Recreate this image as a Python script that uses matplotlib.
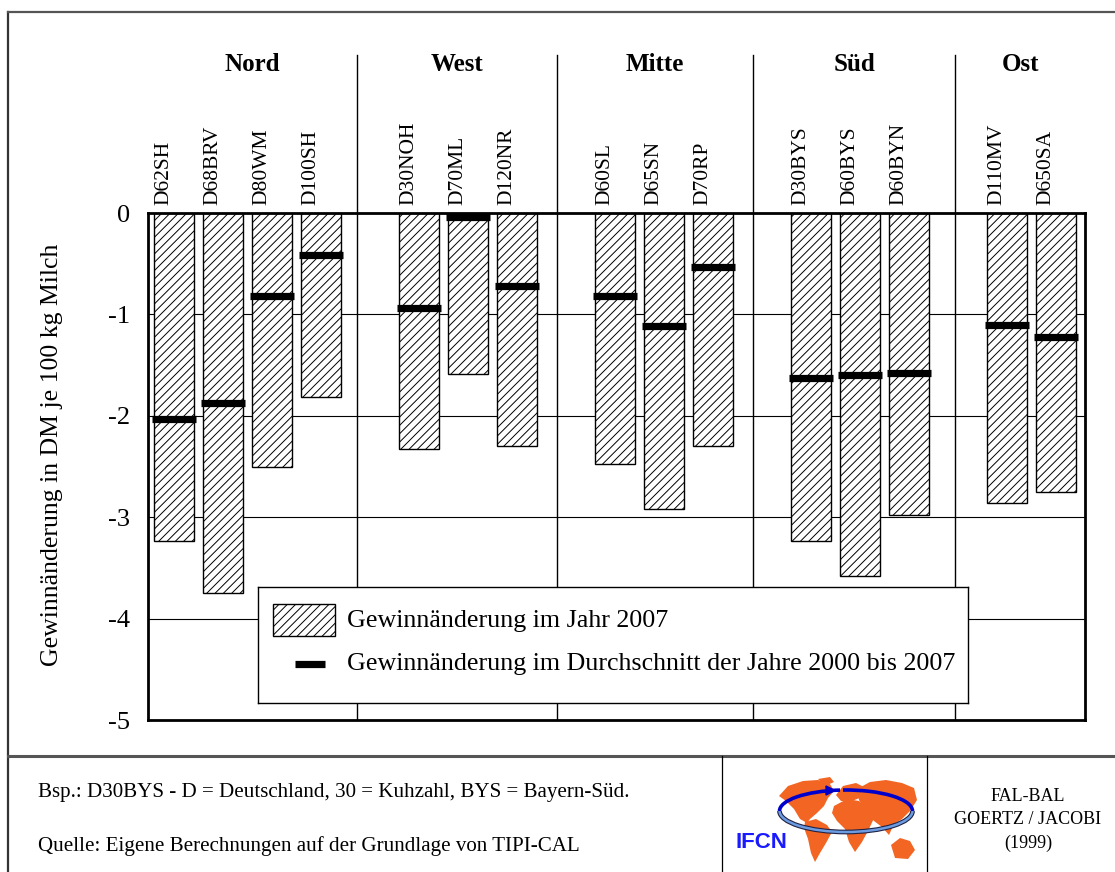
import matplotlib.pyplot as plt
from matplotlib.patches import Rectangle, Polygon, Arc
from matplotlib.transforms import blended_transform_factory

plt.rcParams['font.family'] = ['Liberation Serif', 'DejaVu Serif']
plt.rcParams['hatch.linewidth'] = 0.7

# Daten
regionen = ['Nord', 'West', 'Mitte', 'Süd', 'Ost']
betriebe = [
    ['D62SH', 'D68BRV', 'D80WM', 'D100SH'],
    ['D30NOH', 'D70ML', 'D120NR'],
    ['D60SL', 'D65SN', 'D70RP'],
    ['D30BYS', 'D60BYS', 'D60BYN'],
    ['D110MV', 'D650SA'],
]
# Gewinnänderung im Jahr 2007 (DM je 100 kg Milch)
wert_2007 = [
    [-3.23, -3.75, -2.50, -1.81],
    [-2.33, -1.59, -2.30],
    [-2.48, -2.92, -2.30],
    [-3.23, -3.58, -2.98],
    [-2.86, -2.75],
]
# Durchschnitt der Jahre 2000 bis 2007
wert_mittel = [
    [-2.03, -1.87, -0.82, -0.41],
    [-0.94, -0.035, -0.72],
    [-0.82, -1.11, -0.53],
    [-1.63, -1.60, -1.58],
    [-1.10, -1.22],
]
y_ticks = [0, -1, -2, -3, -4, -5]

# Positionen: je Region eine Lücke
pos, labels, v07, vmit = [], [], [], []
i = 0
for g, namen in enumerate(betriebe):
    for k, n in enumerate(namen):
        pos.append(i)
        labels.append(n)
        v07.append(wert_2007[g][k])
        vmit.append(wert_mittel[g][k])
        i += 1
    i += 1
trenner = [3.73, 7.82, 11.82, 15.94]
grenzen = [-0.53] + trenner + [18.59]

W, H = 1115, 872
fig = plt.figure(figsize=(W / 100, H / 100), dpi=100)

# Hintergrund (Pixelkoordinaten) für Rahmen und Fußzeile
bg = fig.add_axes([0, 0, 1, 1], zorder=-1)
bg.set_xlim(0, W)
bg.set_ylim(H, 0)
bg.axis('off')
bg.plot([8, 8], [12, H], color='#333333', lw=1.6)
bg.plot([8, W], [12, 12], color='#555555', lw=1.6)
bg.plot([8, W], [756, 756], color='#555555', lw=2.2)
bg.plot([722, 722], [756, H], color='black', lw=0.9)
bg.plot([927, 927], [756, H], color='black', lw=0.9)
bg.text(38, 792, 'Bsp.: D30BYS - D = Deutschland, 30 = Kuhzahl, BYS = Bayern-Süd.',
        fontsize=15.1, va='center', ha='left')
bg.text(38, 846, 'Quelle: Eigene Berechnungen auf der Grundlage von TIPI-CAL',
        fontsize=15.1, va='center', ha='left')
bg.text(1028, 820, 'FAL-BAL\nGOERTZ / JACOBI\n(1999)', fontsize=13,
        ha='center', va='center', linespacing=1.45)

# IFCN-Logo (grob)
orange = '#f26522'
kontinente = [
    [(779, 796), (788, 786), (803, 781), (818, 780), (830, 784), (834, 791), (828, 798),
     (824, 806), (817, 813), (810, 819), (807, 823), (800, 819), (794, 809), (786, 801)],
    [(818, 779), (830, 777), (834, 782), (825, 786)],
    [(805, 822), (816, 819), (827, 825), (832, 832), (826, 843), (820, 853), (815, 862),
     (811, 853), (808, 839), (804, 828)],
    [(836, 795), (843, 786), (856, 783), (866, 788), (862, 797), (852, 801), (841, 801)],
    [(834, 806), (847, 799), (859, 801), (868, 809), (875, 816), (869, 829), (862, 842),
     (855, 852), (849, 842), (845, 829), (837, 821), (832, 813)],
    [(857, 789), (870, 782), (886, 780), (902, 783), (914, 788), (917, 800), (910, 811),
     (902, 819), (894, 824), (889, 835), (882, 827), (874, 821), (865, 811), (859, 800)],
    [(891, 845), (900, 838), (910, 841), (915, 850), (908, 859), (895, 858)],
]
for k in kontinente:
    bg.add_patch(Polygon(k, closed=True, facecolor=orange, edgecolor='none'))
bg.add_patch(Arc((846, 811), 133, 42, theta1=0, theta2=180, color='#222244', lw=3.4))
bg.add_patch(Arc((846, 811), 133, 42, theta1=0, theta2=180, color='#6b9be0', lw=1.8))
bg.add_patch(Arc((846, 811), 133, 42, theta1=180, theta2=254, color='#0000cc', lw=2.6))
bg.add_patch(Arc((846, 811), 133, 42, theta1=262, theta2=360, color='#0000cc', lw=2.6))
bg.add_patch(Polygon([(826, 786), (835, 790.5), (826, 795)], closed=True, color='#0000cc'))
bg.text(761, 842, 'IFCN', family='Liberation Sans', weight='bold', fontsize=16,
        color='#1a1aff', ha='center', va='center')

# Hauptdiagramm
ax = fig.add_axes([148 / W, 1 - 720 / H, 937 / W, 507 / H])
ax.bar(pos, v07, width=0.8, color='white', edgecolor='black', linewidth=1.0,
       hatch='////', zorder=2)
ax.hlines(vmit, [p - 0.45 for p in pos], [p + 0.45 for p in pos],
          colors='black', linewidth=5.2, zorder=3)

ax.set_xlim(grenzen[0], grenzen[-1])
ax.set_ylim(-5, 0)
ax.set_yticks(y_ticks)
ax.set_yticklabels([str(t) for t in y_ticks], fontsize=19)
ax.set_xticks([])
ax.tick_params(axis='y', length=0, pad=13)
ax.yaxis.grid(True, color='black', linewidth=0.8)
ax.set_axisbelow(True)
for s in ax.spines.values():
    s.set_linewidth(2)

tr = blended_transform_factory(ax.transData, ax.transAxes)
for t in trenner:
    ax.plot([t, t], [0, 1.312], color='black', lw=1.0, transform=tr,
            clip_on=False, zorder=1)
for p, n in zip(pos, labels):
    ax.text(p - 0.2, 1.016, n, rotation=90, fontsize=15.5, ha='center',
            va='bottom', transform=tr)
for g, r in enumerate(regionen):
    mx = (grenzen[g] + grenzen[g + 1]) / 2
    ax.text(mx, 1.293, r, fontsize=18, weight='bold', ha='center', va='center',
            transform=tr)

fig.text(52 / W, 1 - 455 / H, 'Gewinnänderung in DM je 100 kg Milch', rotation=90,
         fontsize=18.5, ha='center', va='center')

# Legende
lg = fig.add_axes([258 / W, 1 - 703 / H, 710 / W, 116 / H], zorder=5)
lg.set_xlim(258, 968)
lg.set_ylim(703, 587)
lg.set_xticks([])
lg.set_yticks([])
for s in lg.spines.values():
    s.set_linewidth(1.0)
lg.add_patch(Rectangle((273, 604), 62, 32, facecolor='white', edgecolor='black',
                       linewidth=1.0, hatch='////'))
lg.plot([295, 325], [664, 664], color='black', lw=5.2, solid_capstyle='butt')
lg.text(347, 621, 'Gewinnänderung im Jahr 2007', fontsize=18.7, va='center')
lg.text(347, 664, 'Gewinnänderung im Durchschnitt der Jahre 2000 bis 2007',
        fontsize=18.7, va='center')

fig.savefig('out.png', dpi=100)
